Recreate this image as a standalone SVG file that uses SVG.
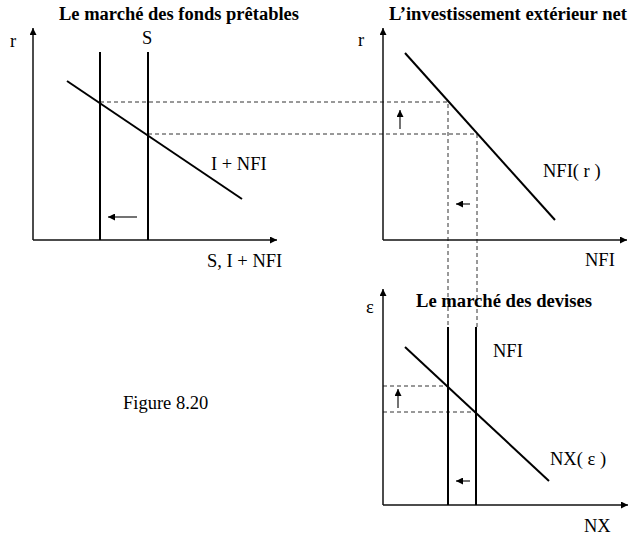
<svg xmlns="http://www.w3.org/2000/svg" width="632" height="536" viewBox="0 0 632 536">
<style>
text{font-family:"Liberation Serif","Times New Roman",serif;font-size:18.5px;fill:#000}
.t{font-weight:bold}
.ax{stroke:#111;stroke-width:1.5;fill:none}
.cv{stroke:#000;stroke-width:2;fill:none}
.ds{stroke:#333;stroke-width:1;stroke-dasharray:4 3;fill:none}
.sa{stroke:#444;stroke-width:1.5;fill:none}
</style>
<defs>
<marker id="ah" viewBox="0 0 10 10" refX="10" refY="5" markerWidth="7" markerHeight="7" markerUnits="userSpaceOnUse" orient="auto"><path d="M0,0 L10,5 L0,10 z" fill="#000"/></marker>
<marker id="sh" viewBox="0 0 10 10" refX="10" refY="5" markerWidth="7" markerHeight="7" markerUnits="userSpaceOnUse" orient="auto"><path d="M0,0 L10,5 L0,10 z" fill="#000"/></marker>
</defs>
<rect width="632" height="536" fill="#fff"/>
<g id="connectors">
<path class="ds" d="M100,102 H448 V327"/>
<path class="ds" d="M148,134 H477 V327"/>
<line class="ds" x1="383" y1="386" x2="448" y2="386"/>
<line class="ds" x1="383" y1="412" x2="476" y2="412"/>
</g>
<g id="panel-loanable-funds">
<text class="t" x="59" y="20" textLength="240" lengthAdjust="spacingAndGlyphs">Le marché des fonds prêtables</text>
<line class="ax" x1="33" y1="240" x2="33" y2="28" marker-end="url(#ah)"/>
<line class="ax" x1="33" y1="240" x2="277" y2="240" marker-end="url(#ah)"/>
<text x="10" y="47">r</text>
<text x="142" y="44">S</text>
<line class="cv" x1="100" y1="52" x2="100" y2="240"/>
<line class="cv" x1="148" y1="52" x2="148" y2="240"/>
<line class="cv" x1="67" y1="81" x2="242" y2="199"/>
<text x="211" y="170">I + NFI</text>
<line class="sa" x1="137" y1="217" x2="108" y2="217" marker-end="url(#sh)"/>
<text x="207" y="267">S, I + NFI</text>
</g>
<g id="panel-nfi">
<text class="t" x="389" y="20" textLength="238" lengthAdjust="spacingAndGlyphs">L’investissement extérieur net</text>
<line class="ax" x1="383" y1="240" x2="383" y2="28" marker-end="url(#ah)"/>
<line class="ax" x1="383" y1="240" x2="627" y2="240" marker-end="url(#ah)"/>
<text x="358" y="46">r</text>
<line class="cv" x1="405" y1="53" x2="555" y2="220"/>
<line class="sa" x1="400" y1="129" x2="400" y2="110" marker-end="url(#sh)"/>
<line class="sa" x1="470" y1="204" x2="456" y2="204" marker-end="url(#sh)"/>
<text x="543" y="177">NFI( r )</text>
<text x="585" y="266">NFI</text>
</g>
<g id="panel-forex">
<text class="t" x="416" y="307" textLength="176" lengthAdjust="spacingAndGlyphs">Le marché des devises</text>
<line class="ax" x1="383" y1="505" x2="383" y2="289" marker-end="url(#ah)"/>
<line class="ax" x1="383" y1="505" x2="628" y2="505" marker-end="url(#ah)"/>
<text x="366" y="313">ε</text>
<line class="cv" x1="448" y1="327" x2="448" y2="505"/>
<line class="cv" x1="476" y1="327" x2="476" y2="505"/>
<line class="cv" x1="405" y1="347" x2="549" y2="481"/>
<line class="sa" x1="398" y1="408" x2="398" y2="389" marker-end="url(#sh)"/>
<line class="sa" x1="470" y1="481" x2="456" y2="481" marker-end="url(#sh)"/>
<text x="493" y="357">NFI</text>
<text x="550" y="465">NX( ε )</text>
<text x="584" y="532">NX</text>
</g>
<g id="caption">
<text x="123" y="409">Figure 8.20</text>
</g>
</svg>
